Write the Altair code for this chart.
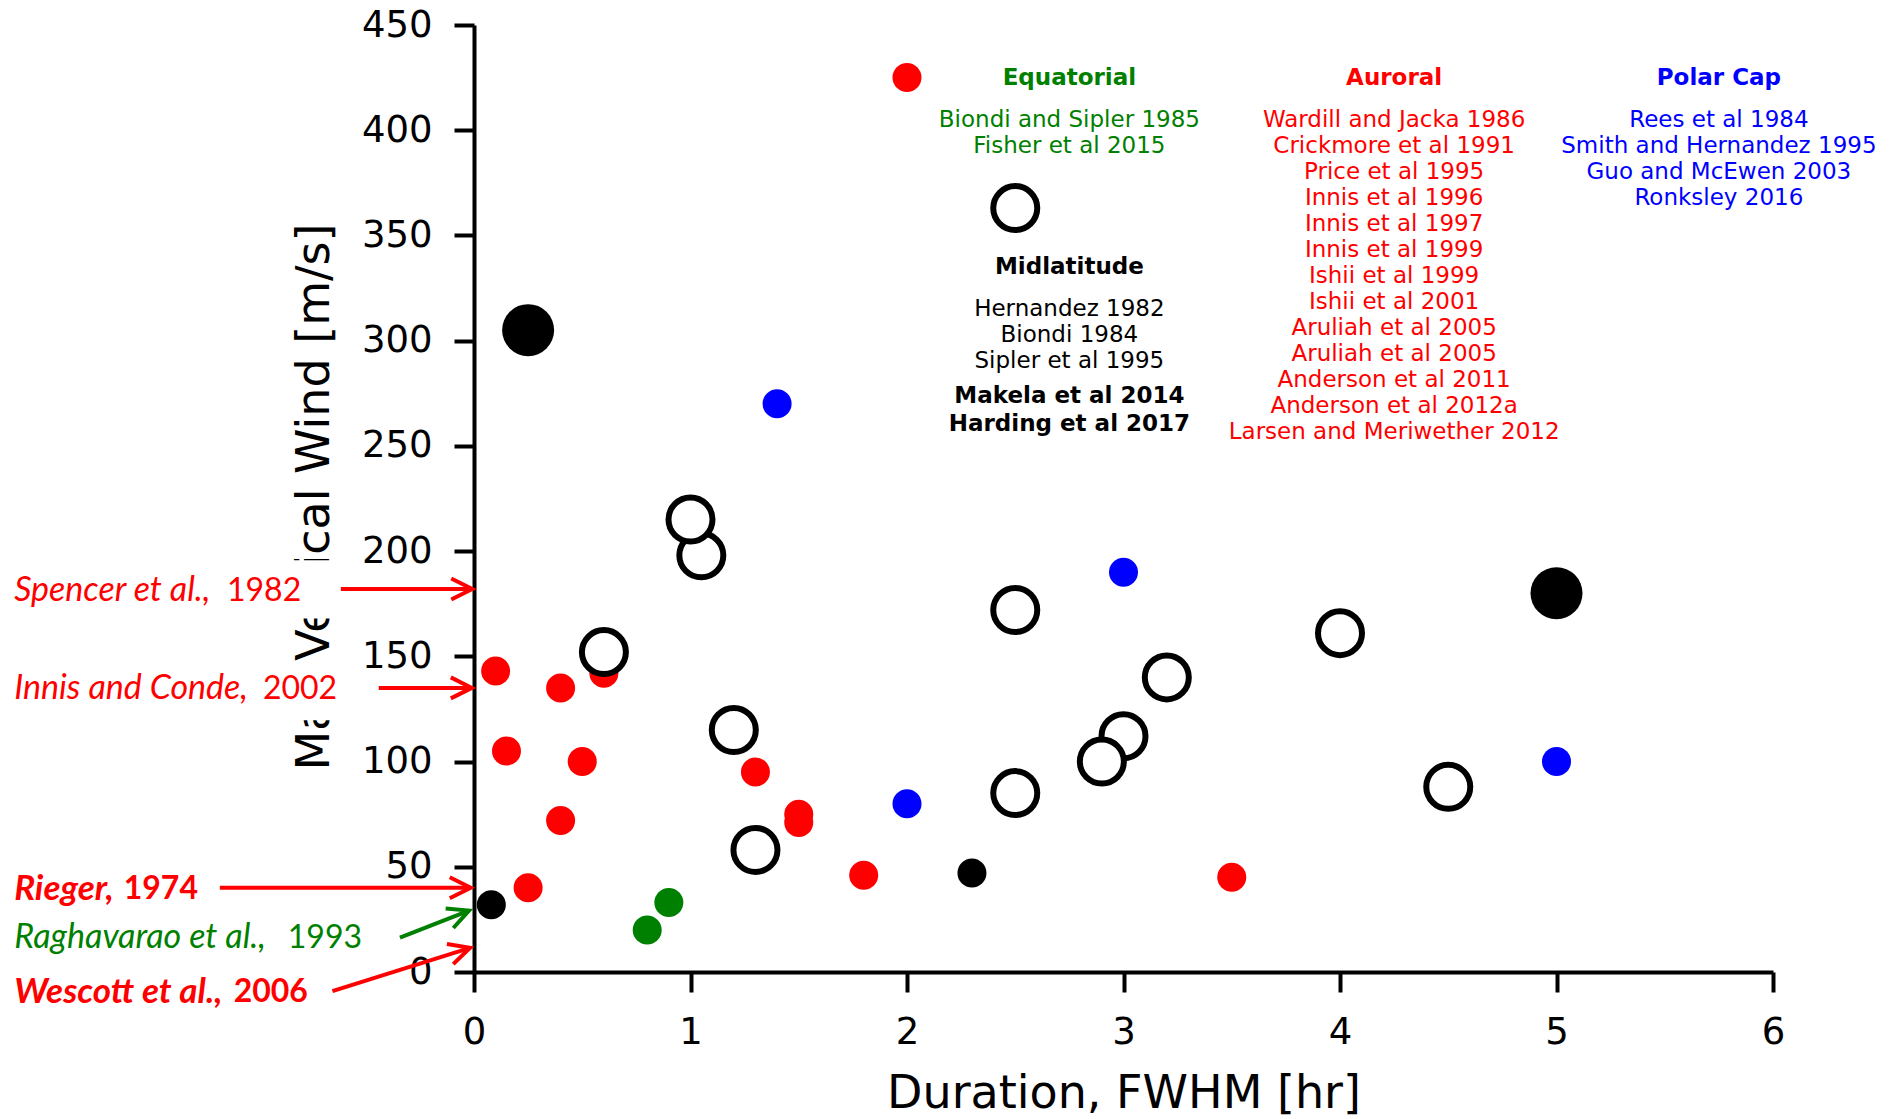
import math
import altair as alt
import pandas as pd

# ---------------- data ----------------
# Auroral (red filled)
aur_x = [2.0, 0.1, 0.4, 0.6, 0.15, 0.5, 1.3, 0.4, 1.5, 1.5, 0.25, 1.8, 3.5]
aur_y = [425, 143, 135, 142, 105, 100, 95, 72, 75, 71, 40, 46, 45]
# Polar cap (blue filled)
pol_x = [1.4, 3.0, 2.0, 5.0]
pol_y = [270, 190, 80, 100]
# Equatorial (green filled)
equ_x = [0.9, 0.8]
equ_y = [33, 20]
# Midlatitude small black filled
mids_x = [0.08, 2.3]
mids_y = [32, 47]
# Midlatitude large black filled
midb_x = [0.25, 5.0]
midb_y = [305, 180]
# Midlatitude open circles (drawing order matters for overlaps)
mido_x = [2.5, 1.05, 1.0, 0.6, 2.5, 4.0, 3.2, 1.2, 3.0, 2.9, 2.5, 4.5, 1.3]
mido_y = [363, 198, 215, 152, 172, 161, 140, 115, 112, 100, 85, 88, 58]

x_ticks = [0, 1, 2, 3, 4, 5, 6]
y_ticks = [0, 50, 100, 150, 200, 250, 300, 350, 400, 450]

# legend-like reference lists
equ_title = "Equatorial"
equ_refs = ["Biondi and Sipler 1985", "Fisher et al 2015"]
aur_title = "Auroral"
aur_refs = ["Wardill and Jacka 1986", "Crickmore et al 1991", "Price et al 1995",
            "Innis et al 1996", "Innis et al 1997", "Innis et al 1999",
            "Ishii et al 1999", "Ishii et al 2001", "Aruliah et al 2005",
            "Aruliah et al 2005", "Anderson et al 2011", "Anderson et al 2012a",
            "Larsen and Meriwether 2012"]
pol_title = "Polar Cap"
pol_refs = ["Rees et al 1984", "Smith and Hernandez 1995", "Guo and McEwen 2003",
            "Ronksley 2016"]
mid_title = "Midlatitude"
mid_refs = ["Hernandez 1982", "Biondi 1984", "Sipler et al 1995"]
mid_refs_bold = ["Makela et al 2014", "Harding et al 2017"]

# side annotations (names, years, the value each arrow points at)
ann_names = ["Spencer et al., ", "Innis and Conde, ", "Rieger, ",
             "Raghavarao et al., ", "Wescott et al., "]
ann_years = ["1982", "2002", "1974", "1993", "2006"]
ann_colors = ["red", "red", "red", "green", "red"]
ann_bold = [False, False, True, False, True]
ann_y = [181, 134.5, 39.5, 16, -9.5]
ann_year_x = [-1.141, -0.975, -1.618, -0.86, -1.11]
ann_name_x = -2.124
arr_x1 = [-0.615, -0.44, -1.174, -0.342, -0.654]
arr_y1 = [182, 135, 40, 16.3, -9.1]
arr_x2 = [-0.008, -0.01, -0.015, -0.023, -0.018]
arr_y2 = [182, 135, 40, 29.2, 11.5]
# white boxes behind the first two annotations
box_x1 = [-2.16, -2.16]
box_x2 = [-0.63, -0.59]
box_y1 = [168, 119.6]
box_y2 = [195.7, 147.2]

# ---------------- layout ----------------
W, H = 1299, 947
PX_X = W / 6.0
PX_Y = H / 450.0

xs = alt.Scale(domain=[0, 6], nice=False, zero=False)
ys = alt.Scale(domain=[0, 450], nice=False, zero=False)

common_axis = dict(grid=False, domainColor="black", domainWidth=4, tickColor="black",
                   tickWidth=4, tickSize=20, labelFont="DejaVu Sans", labelFontSize=37,
                   labelColor="black", titleFont="DejaVu Sans", titleFontSize=46,
                   titleFontWeight="normal", titleColor="black", labelFlush=False,
                   labelOverlap=False, titleBaseline="alphabetic", titleAlign="center")
xaxis = alt.Axis(values=x_ticks, title="Duration, FWHM [hr]", labelPadding=22,
                 titleX=W / 2, titleY=135, format="d", **common_axis)
yaxis = alt.Axis(values=y_ticks, title="Max Vertical Wind [m/s]", labelPadding=22,
                 titleAngle=270, titleX=-146, titleY=H / 2 - 2, format="d", **common_axis)


def X(f="x"):
    return alt.X(f"{f}:Q", scale=xs, axis=xaxis)


def Y(f="y"):
    return alt.Y(f"{f}:Q", scale=ys, axis=yaxis)


def df(x, y):
    return pd.DataFrame({"x": x, "y": y})


layers = []

# white boxes
layers.append(alt.Chart(pd.DataFrame({"x": box_x1, "x2": box_x2, "y": box_y1, "y2": box_y2}))
              .mark_rect(color="white", clip=False)
              .encode(x=X(), x2="x2:Q", y=Y(), y2="y2:Q"))

# arrows
arr = pd.DataFrame({"x": arr_x1, "y": arr_y1, "x2": arr_x2, "y2": arr_y2, "c": ann_colors})
arr["ang"] = [(math.degrees(math.atan2(-(b2 - b1) * PX_Y, (a2 - a1) * PX_X)) + 360) % 360
              for a1, b1, a2, b2 in zip(arr_x1, arr_y1, arr_x2, arr_y2)]
layers.append(alt.Chart(arr).mark_rule(strokeWidth=4, clip=False)
              .encode(x=X(), y=Y(), x2="x2:Q", y2="y2:Q",
                      color=alt.Color("c:N", scale=None)))
head = arr[["x2", "y2", "c", "ang"]].rename(columns={"x2": "hx", "y2": "hy"})
layers.append(alt.Chart(head).mark_point(shape="M-1,-0.5L0,0L-1,0.5", filled=False,
                                         strokeWidth=4, size=1764, opacity=1,
                                         strokeJoin="miter", clip=False)
              .encode(x=X("hx"), y=Y("hy"), angle=alt.Angle("ang:Q", scale=None),
                      color=alt.Color("c:N", scale=None)))

# annotation texts (names italic, years upright)
ann = pd.DataFrame({"name": ann_names, "year": ann_years, "c": ann_colors,
                    "b": ann_bold, "y": ann_y, "yx": ann_year_x})
ann["x"] = ann_name_x
for bold in (False, True):
    sub = ann[ann["b"] == bold]
    wt = "bold" if bold else "normal"
    layers.append(alt.Chart(sub).mark_text(align="left", baseline="middle", font="Lato",
                                           fontSize=35 if bold else 34, fontStyle="italic",
                                           fontWeight=wt, clip=False)
                  .encode(x=X(), y=Y(), text="name:N", color=alt.Color("c:N", scale=None)))
    layers.append(alt.Chart(sub).mark_text(align="left", baseline="middle", font="Lato",
                                           fontSize=32, fontWeight=wt, clip=False)
                  .encode(x=X("yx"), y=Y(), text="year:N", color=alt.Color("c:N", scale=None)))

# reference lists
STEP = 26 / PX_Y
rows = []


def block(x, y0, lines, color, weight, step=STEP):
    for i, t in enumerate(lines):
        rows.append({"x": x, "y": y0 - i * step, "t": t, "c": color, "w": weight})


block(2.75, 425, [equ_title], "green", "bold")
block(2.75, 404.8, equ_refs, "green", "normal")
block(4.25, 425, [aur_title], "red", "bold")
block(4.25, 404.8, aur_refs, "red", "normal")
block(5.75, 425, [pol_title], "blue", "bold")
block(5.75, 404.8, pol_refs, "blue", "normal")
block(2.75, 335.2, [mid_title], "black", "bold")
block(2.75, 315.0, mid_refs, "black", "normal")
block(2.75, 273.5, mid_refs_bold, "black", "bold", step=13.0)
leg = pd.DataFrame(rows)
for wt in ("normal", "bold"):
    layers.append(alt.Chart(leg[leg["w"] == wt]).mark_text(
        align="center", baseline="middle", font="DejaVu Sans", fontSize=23, fontWeight=wt)
        .encode(x=X(), y=Y(), text="t:N", color=alt.Color("c:N", scale=None)))

# points
SMALL = 841
layers.append(alt.Chart(df(aur_x, aur_y)).mark_point(shape="circle", filled=True, size=SMALL,
                                                     color="red", opacity=1)
              .encode(x=X(), y=Y()))
layers.append(alt.Chart(df(pol_x, pol_y)).mark_point(shape="circle", filled=True, size=SMALL,
                                                     color="blue", opacity=1)
              .encode(x=X(), y=Y()))
layers.append(alt.Chart(df(equ_x, equ_y)).mark_point(shape="circle", filled=True, size=SMALL,
                                                     color="green", opacity=1)
              .encode(x=X(), y=Y()))
layers.append(alt.Chart(df(mids_x, mids_y)).mark_point(shape="circle", filled=True, size=SMALL,
                                                       color="black", opacity=1)
              .encode(x=X(), y=Y()))
layers.append(alt.Chart(df(mido_x, mido_y)).mark_point(shape="circle", filled=False, size=1936,
                                                       fill="white", fillOpacity=1,
                                                       stroke="black", strokeWidth=6, opacity=1)
              .encode(x=X(), y=Y()))
layers.append(alt.Chart(df(midb_x, midb_y)).mark_point(shape="circle", filled=True, size=2704,
                                                       color="black", opacity=1)
              .encode(x=X(), y=Y()))

chart = alt.layer(*layers).properties(
    width=W, height=H,
    autosize=alt.AutoSizeParams(type="none"),
    padding={"left": 474, "top": 25, "right": 1892 - 474 - W, "bottom": 1119 - 25 - H},
    background="white",
).configure_view(stroke=None)

chart.save("out.html", embed_options={"renderer": "svg", "actions": False})
